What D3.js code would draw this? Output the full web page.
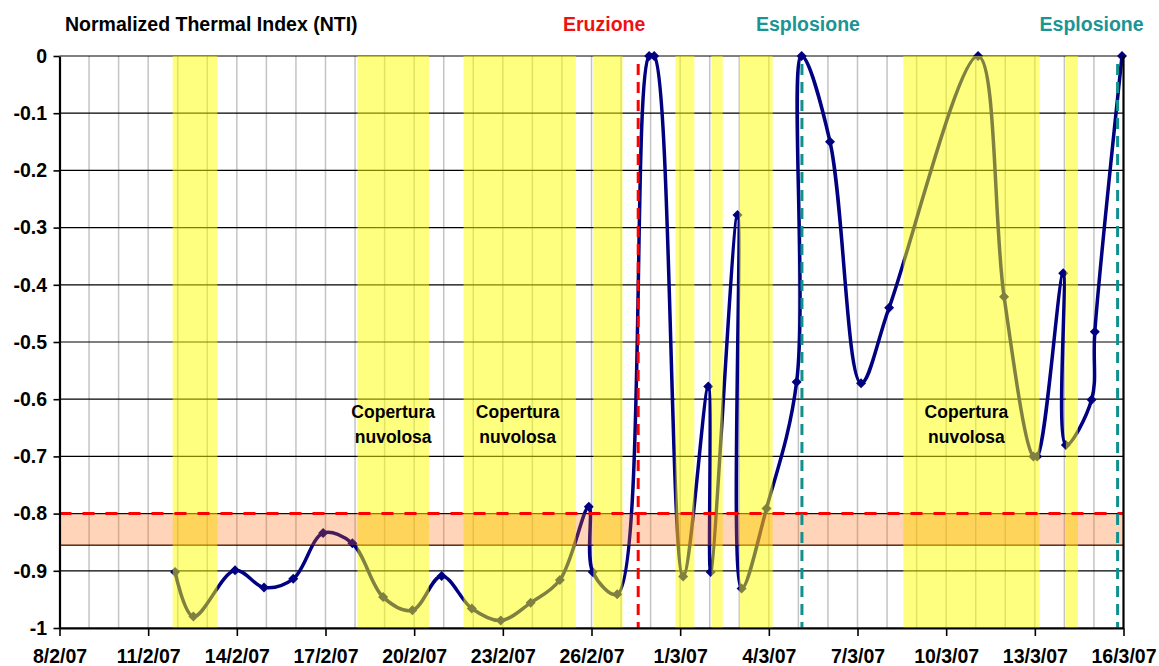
<!DOCTYPE html>
<html><head><meta charset="utf-8">
<script src="https://cdn.jsdelivr.net/npm/d3@7"></script>
<style>
body{margin:0;background:#fff}
text{font-family:"Liberation Sans",Arial,sans-serif;font-weight:bold}
</style>
</head><body>
<svg id="chart" width="1159" height="666"></svg>
<script>
// ---------- data ----------
const obsTimes = [
 "2007-02-11 21:50","2007-02-12 12:43","2007-02-13 22:34","2007-02-14 22:05","2007-02-15 21:50",
 "2007-02-16 22:05","2007-02-17 21:50","2007-02-18 22:48","2007-02-19 22:34","2007-02-20 22:19",
 "2007-02-21 22:48","2007-02-22 22:19","2007-02-23 22:34","2007-02-24 22:19","2007-02-25 21:50",
 "2007-02-26 00:58","2007-02-26 20:53","2007-02-27 22:48","2007-02-28 02:53","2007-03-01 02:24",
 "2007-03-01 22:48","2007-03-02 00:43","2007-03-02 22:34","2007-03-03 01:55","2007-03-03 22:05",
 "2007-03-04 22:34","2007-03-05 02:38","2007-03-06 01:41","2007-03-07 02:53","2007-03-08 01:41",
 "2007-03-11 01:55","2007-03-11 23:02","2007-03-12 22:48","2007-03-13 01:55","2007-03-13 23:02",
 "2007-03-14 01:12","2007-03-14 22:05","2007-03-15 00:43","2007-03-15 22:48"
];
const ntiValues = [
 -0.902,-0.980,-0.899,-0.929,-0.914,
 -0.834,-0.852,-0.946,-0.969,-0.909,
 -0.966,-0.987,-0.956,-0.916,-0.788,
 -0.902,-0.941,0,0,-0.910,
 -0.578,-0.902,-0.278,-0.931,-0.791,
 -0.570,0,-0.150,-0.572,-0.440,
 0,-0.421,-0.700,-0.700,-0.380,
 -0.680,-0.601,-0.482,0
];
const cloudStart = ["2007-02-11 19:55","2007-02-18 01:55","2007-02-21 16:05","2007-02-26 01:26","2007-02-28 20:10",
                    "2007-03-02 01:26","2007-03-03 00:00","2007-03-08 13:12","2007-03-14 01:12"];
const cloudEnd   = ["2007-02-13 08:10","2007-02-20 12:00","2007-02-25 11:17","2007-02-27 01:12","2007-03-01 11:31",
                    "2007-03-02 10:34","2007-03-04 03:07","2007-03-13 03:50","2007-03-14 11:02"];
const cloudLabelBands = [1, 2, 7];
const cloudLabelLines = ["Copertura", "nuvolosa"];
const eventTimes  = ["2007-02-27 13:55","2007-03-05 02:53","2007-03-15 19:12"];
const eventLabels = ["Eruzione","Esplosione","Esplosione"];
const eventKinds  = ["eruption","explosion","explosion"];
const thresholdLevel = -0.8;
const thresholdBandBottom = -0.855;
const xTickTimes  = ["2007-02-08 00:00","2007-02-11 00:00","2007-02-14 00:00","2007-02-17 00:00","2007-02-20 00:00",
                     "2007-02-23 00:00","2007-02-26 00:00","2007-03-01 00:00","2007-03-04 00:00","2007-03-07 00:00",
                     "2007-03-10 00:00","2007-03-13 00:00","2007-03-16 00:00"];
const xTickLabels = ["8/2/07","11/2/07","14/2/07","17/2/07","20/2/07","23/2/07","26/2/07",
                     "1/3/07","4/3/07","7/3/07","10/3/07","13/3/07","16/3/07"];
const yTickValues = [0,-0.1,-0.2,-0.3,-0.4,-0.5,-0.6,-0.7,-0.8,-0.9,-1];
const yTickLabels = ["0","-0.1","-0.2","-0.3","-0.4","-0.5","-0.6","-0.7","-0.8","-0.9","-1"];
const chartTitle = "Normalized Thermal Index (NTI)";

// ---------- setup ----------
const parse = d3.utcParse("%Y-%m-%d %H:%M");
const svg = d3.select("#chart");
const L = 59.5, R = 1123.5, T = 56, B = 628;
const x = d3.scaleUtc().domain([parse(xTickTimes[0]), parse(xTickTimes[xTickTimes.length-1])]).range([L, R]);
const y = d3.scaleLinear().domain([-1, 0]).range([B, T]);
const data = obsTimes.map((t,i)=>({t:parse(t), v:ntiValues[i]}));
const eventColor = {eruption:"#ff0000", explosion:"#128f8f"};
const eventTextColor = {eruption:"#ee1111", explosion:"#1a9494"};

// vertical daily gridlines
const days = d3.utcDay.range(d3.utcDay.offset(x.domain()[0],1), x.domain()[1]);
svg.append("g").selectAll("line").data(days).join("line")
  .attr("x1", d=>x(d)).attr("x2", d=>x(d)).attr("y1", T).attr("y2", B)
  .attr("stroke", "#c4c4c4").attr("stroke-width", 1.5);

// horizontal gridlines
svg.append("g").selectAll("line").data(yTickValues.concat([thresholdBandBottom])).join("line")
  .attr("x1", L).attr("x2", R).attr("y1", d=>y(d)).attr("y2", d=>y(d))
  .attr("stroke", "#000").attr("stroke-width", 1.2);

// data line
const line = d3.line().x(d=>x(d.t)).y(d=>y(d.v)).curve(d3.curveCatmullRom.alpha(0.5));
svg.append("path").datum(data).attr("d", line)
  .attr("fill","none").attr("stroke","#000080").attr("stroke-width",3.5).attr("stroke-linejoin","round");
svg.append("g").selectAll("path").data(data).join("path")
  .attr("transform", d=>`translate(${x(d.t)},${y(d.v)})`)
  .attr("d","M0,-5L5,0L0,5L-5,0Z").attr("fill","#000080");

// cloud cover bands (translucent yellow on top)
svg.append("g").selectAll("rect").data(cloudStart.map((s,i)=>[parse(s), parse(cloudEnd[i])])).join("rect")
  .attr("x", d=>x(d[0])).attr("width", d=>x(d[1])-x(d[0]))
  .attr("y", T).attr("height", B-T)
  .attr("fill","#ffff00").attr("fill-opacity",0.5);

// threshold band
svg.append("rect").attr("x", L).attr("width", R-L)
  .attr("y", y(thresholdLevel)).attr("height", y(thresholdBandBottom)-y(thresholdLevel))
  .attr("fill","#ff6600").attr("fill-opacity",0.28);

// threshold dashed line
svg.append("line").attr("x1", L).attr("x2", R).attr("y1", y(thresholdLevel)).attr("y2", y(thresholdLevel))
  .attr("stroke","#ff0000").attr("stroke-width",3).attr("stroke-dasharray","12,11");

// event lines
svg.append("g").selectAll("line").data(eventTimes).join("line")
  .attr("x1", d=>x(parse(d))).attr("x2", d=>x(parse(d))).attr("y1", T+8).attr("y2", B)
  .attr("stroke", (d,i)=>eventColor[eventKinds[i]]).attr("stroke-width",3).attr("stroke-dasharray","11,7");

// axes
const yAxis = d3.axisLeft(y).tickValues(yTickValues).tickFormat((d,i)=>yTickLabels[i]).tickSize(6).tickPadding(6.5).tickSizeOuter(0);
const gy = svg.append("g").attr("transform",`translate(${L},0)`).call(yAxis);
const xAxis = d3.axisBottom(x).tickValues(xTickTimes.map(parse)).tickFormat((d,i)=>xTickLabels[i]).tickSize(8).tickPadding(13).tickSizeOuter(0);
const gx = svg.append("g").attr("transform",`translate(0,${B})`).call(xAxis);
[gx, gy].forEach(g=>{
  g.select(".domain").attr("stroke","#000").attr("stroke-width",2.2);
  g.selectAll(".tick line").attr("stroke","#000").attr("stroke-width",1.6);
  g.selectAll(".tick text").attr("fill","#000").style("font-size","19.5px")
   .style("font-family","'Liberation Sans',Arial,sans-serif").style("font-weight","bold");
});
// right border
svg.append("line").attr("x1",R).attr("x2",R).attr("y1",T).attr("y2",B).attr("stroke","#000").attr("stroke-width",2.2);

// title
svg.append("text").attr("x",65).attr("y",31).style("font-size","19.5px").attr("fill","#000").text(chartTitle);

// event labels
const eventLabelShift = [-34, 6, -26];
svg.append("g").selectAll("text").data(eventTimes).join("text")
  .attr("x",(d,i)=>x(parse(d))+eventLabelShift[i]).attr("y",31).attr("text-anchor","middle")
  .style("font-size","19.5px").attr("fill",(d,i)=>eventTextColor[eventKinds[i]])
  .text((d,i)=>eventLabels[i]);

// cloud labels
const cloudLabelShift = [0, -2, -5];
const cl = svg.append("g");
cloudLabelBands.forEach((bi,k)=>{
  const cx = (x(parse(cloudStart[bi])) + x(parse(cloudEnd[bi])))/2 + cloudLabelShift[k];
  cloudLabelLines.forEach((s,j)=>{
    cl.append("text").attr("x",cx).attr("y",418+j*25).attr("text-anchor","middle")
      .style("font-size","17.5px").attr("fill","#000").text(s);
  });
});
</script>
</body></html>
